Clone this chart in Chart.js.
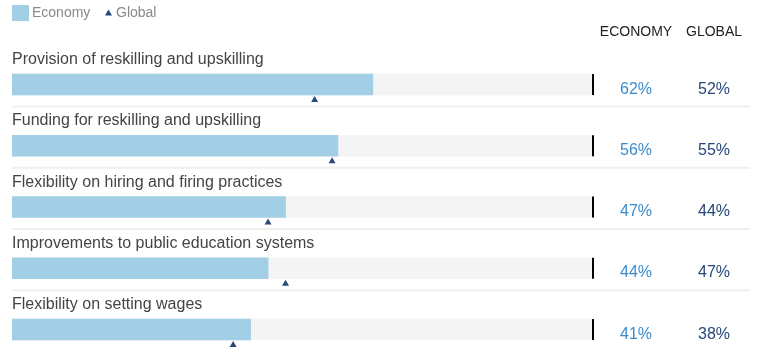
<!DOCTYPE html>
<html>
<head>
<meta charset="utf-8">
<script src="https://cdn.jsdelivr.net/npm/chart.js@4/dist/chart.umd.min.js"></script>
<style>
  html, body { margin: 0; padding: 0; background: #fff; overflow: hidden; }
  canvas { display: block; }
</style>
</head>
<body>
<canvas id="chart" width="758" height="349"></canvas>
<script>
// data
const categories = [
  'Provision of reskilling and upskilling',
  'Funding for reskilling and upskilling',
  'Flexibility on hiring and firing practices',
  'Improvements to public education systems',
  'Flexibility on setting wages'
];
const economyValues = [62, 56, 47, 44, 41];
const globalValues = [52, 55, 44, 47, 38];
const scaleMax = 100;
const columnHeaders = ['ECONOMY', 'GLOBAL'];
const legendLabels = ['Economy', 'Global'];

const FONT = '"Liberation Sans", Arial, Helvetica, sans-serif';
const barBlue = '#a3cfe6';
const trackGrey = '#f4f4f4';
const navy = '#26487a';
const valueBlue = '#3b8ccb';

// text, separators and end marks
const textPlugin = {
  id: 'textPlugin',
  afterDatasetsDraw(chart) {
    const ctx = chart.ctx;
    const xs = chart.scales.x;
    const ys = chart.scales.y;
    ctx.save();

    // legend
    ctx.fillStyle = barBlue;
    ctx.fillRect(12, 5, 17, 16);
    ctx.font = '14px ' + FONT;
    ctx.fillStyle = '#888';
    ctx.textBaseline = 'middle';
    ctx.textAlign = 'left';
    ctx.fillText(legendLabels[0], 32, 13);
    ctx.fillStyle = navy;
    ctx.beginPath();
    ctx.moveTo(108.5, 9.5);
    ctx.lineTo(112, 15.5);
    ctx.lineTo(105, 15.5);
    ctx.closePath();
    ctx.fill();
    ctx.fillStyle = '#888';
    ctx.fillText(legendLabels[1], 116, 13);

    // column headers
    ctx.font = '14px ' + FONT;
    ctx.fillStyle = '#222';
    ctx.textAlign = 'center';
    ctx.fillText(columnHeaders[0], 636, 32);
    ctx.fillText(columnHeaders[1], 714, 32);

    ctx.textBaseline = 'alphabetic';
    const xEnd = xs.getPixelForValue(scaleMax);
    categories.forEach((cat, i) => {
      const cy = ys.getPixelForValue(i);

      ctx.font = '16px ' + FONT;
      ctx.fillStyle = '#444';
      ctx.textAlign = 'left';
      ctx.fillText(cat, 12, cy - 20.5);

      ctx.fillStyle = '#000';
      ctx.fillRect(xEnd - 2, cy - 10.5, 2, 21);

      ctx.font = '16px ' + FONT;
      ctx.textAlign = 'center';
      ctx.fillStyle = valueBlue;
      ctx.fillText(economyValues[i] + '%', 636, cy + 9);
      ctx.fillStyle = navy;
      ctx.fillText(globalValues[i] + '%', 714, cy + 9);

      if (i < categories.length - 1) {
        ctx.fillStyle = '#efefef';
        ctx.fillRect(12, cy + 21, 738, 2);
      }
    });
    ctx.restore();
  }
};

const ctx = document.getElementById('chart').getContext('2d');
new Chart(ctx, {
  type: 'bar',
  data: {
    datasets: [
      {
        type: 'scatter',
        label: legendLabels[1],
        data: globalValues.map((v, i) => ({ x: v, y: i + 0.253 })),
        pointStyle: 'triangle',
        pointRadius: 4,
        pointBackgroundColor: navy,
        pointBorderColor: navy,
        pointBorderWidth: 0,
        showLine: false,
        order: 0
      },
      {
        label: legendLabels[0],
        data: economyValues.map((v, i) => ({ x: v, y: i })),
        backgroundColor: barBlue,
        barThickness: 21,
        grouped: false,
        order: 1
      },
      {
        label: 'track',
        data: categories.map((c, i) => ({ x: scaleMax, y: i })),
        backgroundColor: trackGrey,
        barThickness: 21,
        grouped: false,
        order: 2
      }
    ]
  },
  options: {
    indexAxis: 'y',
    responsive: false,
    animation: false,
    layout: { autoPadding: false, padding: { left: 12, right: 164, top: 0, bottom: 0 } },
    plugins: {
      legend: { display: false },
      tooltip: { enabled: false }
    },
    scales: {
      x: { type: 'linear', min: 0, max: scaleMax, display: false, offset: false },
      y: { type: 'linear', min: -1.38, max: 4.318, reverse: true, display: false, offset: false }
    }
  },
  plugins: [textPlugin]
});
</script>
</body>
</html>
